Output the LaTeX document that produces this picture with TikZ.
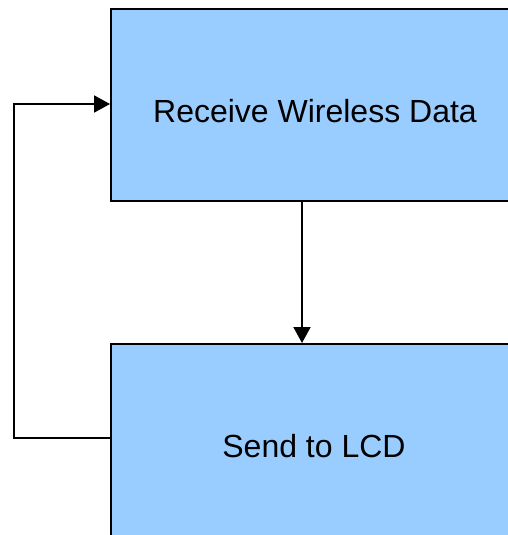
\documentclass[tikz,border=0pt]{standalone}
\usepackage{fontspec}
\setmainfont{Liberation Sans}
\usetikzlibrary{arrows.meta}
\definecolor{boxblue}{HTML}{99CCFF}
\begin{document}
\begin{tikzpicture}[x=1pt,y=-1pt,
  procbox/.style={draw=black, line width=2pt, fill=boxblue},
  lbl/.style={anchor=base, inner sep=0pt, font=\fontsize{32}{38}\selectfont},
  arr/.style={line width=2pt, -{Triangle[width=17pt,length=16pt]}},
  ln/.style={line width=2pt}]
\useasboundingbox (0,0) rectangle (508,535);
\clip (0,0) rectangle (508,535);
\node[procbox, minimum width=420pt, minimum height=192pt, anchor=north west, inner sep=0pt] (b1) at (110,8) {};
\node[procbox, minimum width=420pt, minimum height=220pt, anchor=north west, inner sep=0pt] (b2) at (110,343) {};
\node[lbl] (t1) at (315,122) {Receive Wireless Data};
\node[lbl] (t2) at (314,457) {Send to LCD};
\coordinate (c1) at (302,0);
\coordinate (l1) at (14,438);
\coordinate (l2) at (14,104);
\draw[arr] (b1.south -| c1) -- (b2.north -| c1);
\draw[arr] (b2.west |- l1) -- (l1) -- (l2) -- (b1.west |- l2);
\end{tikzpicture}
\end{document}
